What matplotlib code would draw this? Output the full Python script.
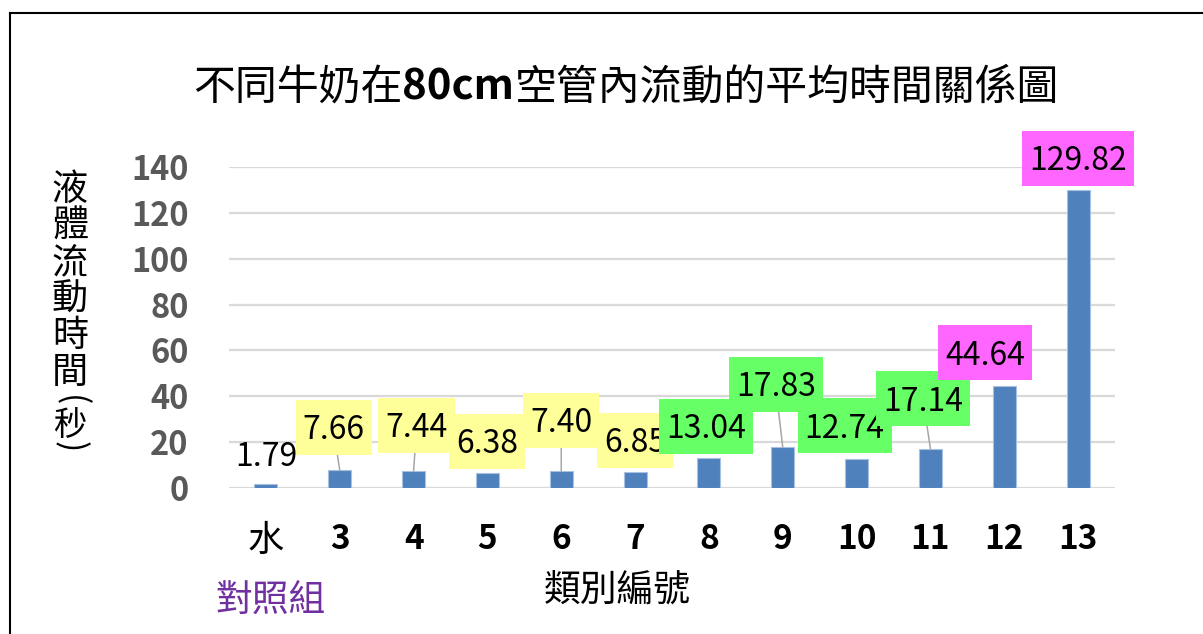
import matplotlib
matplotlib.use("Agg")
from matplotlib import pyplot as plt
from matplotlib.lines import Line2D
from matplotlib.path import Path
from matplotlib.offsetbox import TextArea, HPacker, AnnotationBbox

CJK = ["Noto Sans CJK TC", "DejaVu Sans"]
plt.rcParams['font.family'] = CJK

# data
categories = ["水", "3", "4", "5", "6", "7", "8", "9", "10", "11", "12", "13"]
times = [1.79, 7.66, 7.44, 6.38, 7.40, 6.85, 13.04, 17.83, 12.74, 17.14, 44.64, 129.82]
groups = ["control", "low", "low", "low", "low", "low",
          "mid", "mid", "mid", "mid", "high", "high"]
yticks = [0, 20, 40, 60, 80, 100, 120, 140]

# label box colour per group (None = no box)
group_colors = {"control": None, "low": "#FFFF99", "mid": "#66FF66", "high": "#FF66FF"}
# where Excel put each data label, pixels from the bar top
label_offsets = [(0, 27), (-6, 40), (3, 43), (0, 29), (0, 48), (0, 29),
                 (-3, 29), (-7, 60), (-12, 30), (-7, 47), (-19, 30), (0, 29)]


def excel_box(x0, y0, width, height, mutation_size):
    # Excel label boxes: snug left/right, roomier top/bottom
    px = 0.22 * mutation_size
    bottom = 0.27 * mutation_size
    top = 0.45 * mutation_size
    x0, x1 = x0 - px, x0 + width + px
    y0, y1 = y0 - bottom, y0 + height + top
    return Path([(x0, y0), (x1, y0), (x1, y1), (x0, y1), (x0, y0)], closed=True)


W, H = 1203, 634
fig = plt.figure(figsize=(W / 100, H / 100), dpi=100)
ax = fig.add_axes([229 / W, 146 / H, 886 / W, 321 / H])

x = list(range(len(categories)))
ax.bar(x, times, width=0.31, color="#4F81BD", edgecolor="#A9C1E0", linewidth=0.8, zorder=3)
ax.set_xlim(-0.5, len(categories) - 0.5)
ax.set_ylim(0, 140)
ax.set_yticks(yticks)
ax.set_xticks(x)
ax.set_xticklabels(categories)
ax.grid(axis="y", color="#D9D9D9", linewidth=1.6, zorder=0)
ax.set_axisbelow(True)
for s in ax.spines.values():
    s.set_visible(False)
ax.tick_params(axis="y", length=0, pad=29, labelsize=23.5, labelcolor="#595959")
ax.tick_params(axis="x", length=0, pad=25, labelsize=24)
for t in ax.get_yticklabels():
    t.set_fontweight("bold")
for t in ax.get_xticklabels():
    if t.get_text() == "水":
        t.set_fontweight("normal")
        t.set_fontsize(26)
    else:
        t.set_fontweight("bold")

# data labels
for i, v in enumerate(times):
    dx, dy = label_offsets[i]
    fc = group_colors[groups[i]]
    bbox = None
    if fc is not None:
        bbox = dict(boxstyle=excel_box, fc=fc, ec="none")
    arrow = None
    if dy > 36:
        arrow = dict(arrowstyle="-", color="#A6A6A6", lw=1.1, shrinkA=0, shrinkB=0)
    ax.annotate("%.2f" % v, xy=(i, v), xytext=(dx, dy), textcoords="offset pixels",
                ha="center", va="center", fontsize=23, bbox=bbox, arrowprops=arrow,
                zorder=5)

# title, "80cm" in bold
parts = [TextArea("不同牛奶在", textprops=dict(fontsize=30.2, family=CJK)),
         TextArea("80cm", textprops=dict(fontsize=30.2, family=CJK, weight="bold")),
         TextArea("空管內流動的平均時間關係圖", textprops=dict(fontsize=30.2, family=CJK))]
title = HPacker(children=parts, align="baseline", pad=0, sep=0)
fig.add_artist(AnnotationBbox(title, (626 / W, 1 - 88 / H), xycoords="figure fraction",
                              frameon=False, box_alignment=(0.5, 0.5)))

# vertical y label, one character per line
for k, ch in enumerate("液體流動時間"):
    fig.text(70 / W, 1 - (190 + 36.5 * k) / H, ch, ha="center", va="center", fontsize=26)
fig.text(70 / W, 1 - 401 / H, "(", ha="center", va="center", fontsize=24, rotation=-90)
fig.text(70 / W, 1 - 425 / H, "秒", ha="center", va="center", fontsize=24)
fig.text(70 / W, 1 - 447 / H, ")", ha="center", va="center", fontsize=24, rotation=-90)

fig.text(617 / W, 1 - 590 / H, "類別編號", ha="center", va="center", fontsize=26.5)
fig.text(270 / W, 1 - 601 / H, "對照組", ha="center", va="center", fontsize=26.5, color="#7030A0")

# outer frame (left and top edges visible)
fig.add_artist(Line2D([10 / W, 10 / W], [0, 1 - 13 / H], transform=fig.transFigure,
                      color="black", lw=1.5))
fig.add_artist(Line2D([10 / W, 1], [1 - 13 / H, 1 - 13 / H], transform=fig.transFigure,
                      color="black", lw=1.5))

fig.savefig("out.png", dpi=100)
